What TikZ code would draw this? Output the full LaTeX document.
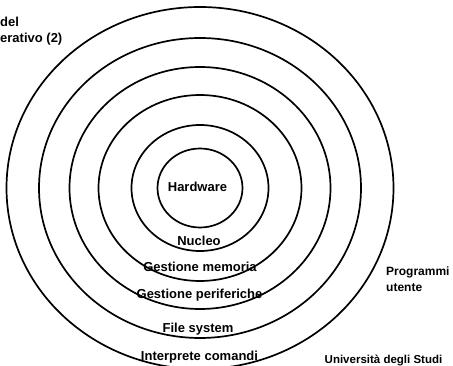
\documentclass[tikz,border=0pt]{standalone}
\usepackage{fontspec}
\setmainfont{Liberation Sans}
\tikzset{
  ring/.style={draw=black, line width=1.7pt},
  layer text/.style={font=\bfseries\fontsize{13}{16}\selectfont, inner sep=0pt},
  side text/.style={font=\bfseries\fontsize{12}{16}\selectfont, inner sep=0pt},
  small text/.style={font=\bfseries\fontsize{11.5}{14}\selectfont, inner sep=0pt}
}
\begin{document}
\begin{tikzpicture}[x=1pt,y=-1pt]
  \useasboundingbox (0,0) rectangle (453,366);
  \coordinate (O) at (200,188);

  \begin{scope}[ring]
    \draw (O) ellipse [x radius=42.5pt, y radius=39.5pt];
    \draw (O) ellipse [x radius=68.5pt, y radius=63pt];
    \draw (O) ellipse [x radius=101.5pt, y radius=93pt];
    \draw (O) ellipse [x radius=130.5pt, y radius=121pt];
    \draw (O) ellipse [x radius=161pt, y radius=150pt];
    \draw (O) ellipse [x radius=193.5pt, y radius=181pt];
  \end{scope}

  \begin{scope}[every node/.style={layer text}]
    \node (hw) at (197.5,187) {Hardware};
    \node (nucleo) at (199,241) {Nucleo};
    \node (mem) at (200,267) {Gestione memoria};
    \node (perif) at (199.5,295) {Gestione periferiche};
    \node (fs) at (198,329) {File system};
    \node (shell) at (199.5,357) {Interprete comandi};
    \node[anchor=west, align=left] (titolo) at (0,31) {del\\erativo (2)};
  \end{scope}

  \node[side text, anchor=west, align=left] (prog) at (386,279) {Programmi\\utente};
  \node[small text, anchor=base] (uni) at (383.5,364) {Università degli Studi};
\end{tikzpicture}
\end{document}
